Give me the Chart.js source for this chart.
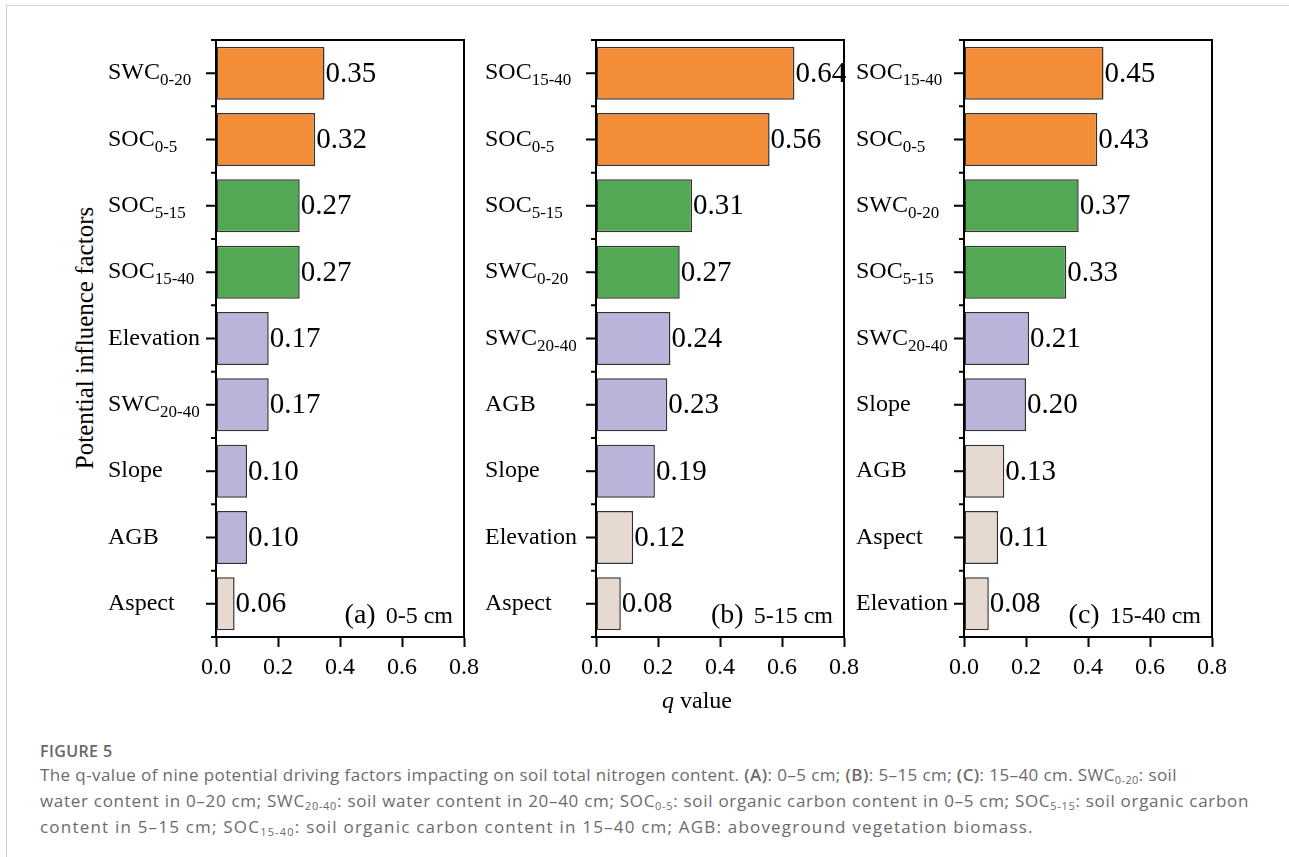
<!DOCTYPE html>
<html>
<head>
<meta charset="utf-8">
<script src="https://cdn.jsdelivr.net/npm/chart.js@4.4.0/dist/chart.umd.min.js"></script>
<style>
  body { margin: 0; background: #fff; width: 1289px; height: 857px; position: relative; overflow: hidden; }
  #frame { position: absolute; left: 6px; top: 5px; width: 1400px; height: 900px; border-left: 1px solid #cfcfcf; border-top: 1px solid #d6d6d6; }
  .panel { position: absolute; top: 30px; }
  #ytitle { position: absolute; left: 85px; top: 338px; transform: translate(-50%, -50%) rotate(-90deg); white-space: nowrap;
            font: 25px "Liberation Serif", "Times New Roman", serif; color: #000; }
  #xtitle { position: absolute; left: 697px; top: 700px; transform: translate(-50%, -50%); white-space: nowrap;
            font: 24px "Liberation Serif", "Times New Roman", serif; color: #000; }
  #cap { position: absolute; left: 40px; top: 741px; width: 1245px; font-family: "Open Sans", "Noto Sans", sans-serif; color: #6b6b6b; white-space: nowrap; }
  #cap .fig { font-size: 16px; font-weight: 600; letter-spacing: 0.4px; line-height: 20px; color: #666; }
  #cap .txt { font-size: 17px; line-height: 26px; margin-top: 1px; letter-spacing: 0.4px; }
  #cap .l2 { letter-spacing: 0.7px; }
  #cap .l3 { letter-spacing: 1.2px; }
  #cap b { font-weight: 600; }
  #cap sub { font-size: 11px; vertical-align: -3px; line-height: 0; }
</style>
</head>
<body>
<div id="frame"></div>
<div class="panel" style="left:100px"><canvas id="chartA" width="380" height="680"></canvas></div>
<div class="panel" style="left:480px"><canvas id="chartB" width="380" height="680"></canvas></div>
<div class="panel" style="left:848px"><canvas id="chartC" width="380" height="680"></canvas></div>
<div id="ytitle">Potential influence factors</div>
<div id="xtitle"><i>q</i> value</div>
<div id="cap">
  <div class="fig">FIGURE 5</div>
  <div class="txt">The q-value of nine potential driving factors impacting on soil total nitrogen content. <b>(A)</b>: 0–5 cm; <b>(B)</b>: 5–15 cm; <b>(C)</b>: 15–40 cm. SWC<sub>0-20</sub>: soil<br><span class="l2">water content in 0–20 cm; SWC<sub>20-40</sub>: soil water content in 20–40 cm; SOC<sub>0-5</sub>: soil organic carbon content in 0–5 cm; SOC<sub>5-15</sub>: soil organic carbon</span><br><span class="l3">content in 5–15 cm; SOC<sub>15-40</sub>: soil organic carbon content in 15–40 cm; AGB: aboveground vegetation biomass.</span></div>
</div>

<script>
// factor names, "_" marks the start of the subscript
var labelsA = ['SWC_0-20', 'SOC_0-5', 'SOC_5-15', 'SOC_15-40', 'Elevation', 'SWC_20-40', 'Slope', 'AGB', 'Aspect'];
var valuesA = [0.35, 0.32, 0.27, 0.27, 0.17, 0.17, 0.10, 0.10, 0.06];
var groupsA = [0, 0, 1, 1, 2, 2, 2, 2, 3];

var labelsB = ['SOC_15-40', 'SOC_0-5', 'SOC_5-15', 'SWC_0-20', 'SWC_20-40', 'AGB', 'Slope', 'Elevation', 'Aspect'];
var valuesB = [0.64, 0.56, 0.31, 0.27, 0.24, 0.23, 0.19, 0.12, 0.08];
var groupsB = [0, 0, 1, 1, 2, 2, 2, 3, 3];

var labelsC = ['SOC_15-40', 'SOC_0-5', 'SWC_0-20', 'SOC_5-15', 'SWC_20-40', 'Slope', 'AGB', 'Aspect', 'Elevation'];
var valuesC = [0.45, 0.43, 0.37, 0.33, 0.21, 0.20, 0.13, 0.11, 0.08];
var groupsC = [0, 0, 1, 1, 2, 2, 3, 3, 3];

var xTicks = [0, 0.2, 0.4, 0.6, 0.8];

var groupColors = ['#F38D38', '#53A853', '#BAB4DA', '#E6D9CF'];
var serif = '"Liberation Serif", "Times New Roman", serif';

// box, y ticks, factor labels with subscripts, value labels, panel tag
var panelDecor = {
    id: 'panelDecor',
    afterDraw: function (chart) {
        var ctx = chart.ctx;
        var area = chart.chartArea;
        var y = chart.scales.y;
        var tag = chart.options.plugins.panelDecor;
        var n = chart.data.labels.length;
        var step = y.getPixelForValue(1) - y.getPixelForValue(0);

        ctx.save();
        ctx.strokeStyle = '#000';
        ctx.lineWidth = 2;
        ctx.strokeRect(area.left, area.top, area.right - area.left, area.bottom - area.top);

        ctx.beginPath();
        for (var i = 0; i < n; i++) {
            var yc = y.getPixelForValue(i);
            ctx.moveTo(area.left - 10, yc);
            ctx.lineTo(area.left, yc);
            ctx.moveTo(area.left - 5, yc - step / 2);
            ctx.lineTo(area.left, yc - step / 2);
        }
        ctx.moveTo(area.left - 5, area.bottom);
        ctx.lineTo(area.left, area.bottom);
        ctx.stroke();

        ctx.fillStyle = '#000';
        ctx.textAlign = 'left';
        ctx.textBaseline = 'alphabetic';
        chart.data.labels.forEach(function (lab, i) {
            var parts = lab.split('_');
            var yc = y.getPixelForValue(i);
            var x = area.left - tag.labelOffset;
            ctx.font = '24px ' + serif;
            ctx.fillText(parts[0], x, yc + 6);
            if (parts[1]) {
                var w = ctx.measureText(parts[0]).width;
                ctx.font = '17px ' + serif;
                ctx.fillText(parts[1], x + w, yc + 12);
            }
        });

        var meta = chart.getDatasetMeta(0);
        ctx.font = '29px ' + serif;
        ctx.textBaseline = 'middle';
        meta.data.forEach(function (bar, i) {
            ctx.fillText(chart.data.datasets[0].data[i].toFixed(2), bar.x + 1, bar.y + 1);
        });

        ctx.textBaseline = 'alphabetic';
        ctx.textAlign = 'right';
        ctx.font = '24px ' + serif;
        var right = area.right - 11;
        ctx.fillText(tag.depth, right, area.bottom - 14);
        var dw = ctx.measureText(tag.depth).width;
        ctx.font = '28px ' + serif;
        ctx.fillText(tag.letter, right - dw - 10, area.bottom - 14);
        ctx.restore();
    }
};

function buildChart(id, labels, values, groups, letter, depth, labelOffset) {
    return new Chart(document.getElementById(id).getContext('2d'), {
        type: 'bar',
        data: {
            labels: labels,
            datasets: [{
                data: values,
                backgroundColor: groups.map(function (g) { return groupColors[g]; }),
                borderColor: '#333',
                borderWidth: 1.5,
                borderSkipped: false,
                categoryPercentage: 0.8,
                barPercentage: 1
            }]
        },
        options: {
            indexAxis: 'y',
            responsive: false,
            animation: false,
            devicePixelRatio: 1,
            layout: { padding: { top: 10, right: 16, left: 0, bottom: 0 } },
            plugins: {
                legend: { display: false },
                tooltip: { enabled: false },
                panelDecor: { letter: letter, depth: depth, labelOffset: labelOffset }
            },
            scales: {
                x: {
                    min: xTicks[0],
                    max: xTicks[xTicks.length - 1],
                    afterFit: function (s) { s.height = 73; s.paddingLeft = 0; s.paddingRight = 0; },
                    afterBuildTicks: function (s) { s.ticks = xTicks.map(function (v) { return { value: v }; }); },
                    ticks: {
                        callback: function (v) { return Number(v).toFixed(1); },
                        font: { family: serif, size: 24 },
                        color: '#000',
                        padding: 6,
                        maxRotation: 0
                    },
                    grid: { drawOnChartArea: false, drawTicks: true, tickLength: 10, tickWidth: 2, tickColor: '#000' },
                    border: { display: true, color: '#000', width: 2 }
                },
                y: {
                    afterFit: function (s) { s.width = 116; },
                    ticks: { display: false },
                    grid: { display: false },
                    border: { display: false }
                }
            }
        },
        plugins: [panelDecor]
    });
}

buildChart('chartA', labelsA, valuesA, groupsA, '(a)', '0-5 cm', 108);
buildChart('chartB', labelsB, valuesB, groupsB, '(b)', '5-15 cm', 111);
buildChart('chartC', labelsC, valuesC, groupsC, '(c)', '15-40 cm', 108);
</script>
</body>
</html>
